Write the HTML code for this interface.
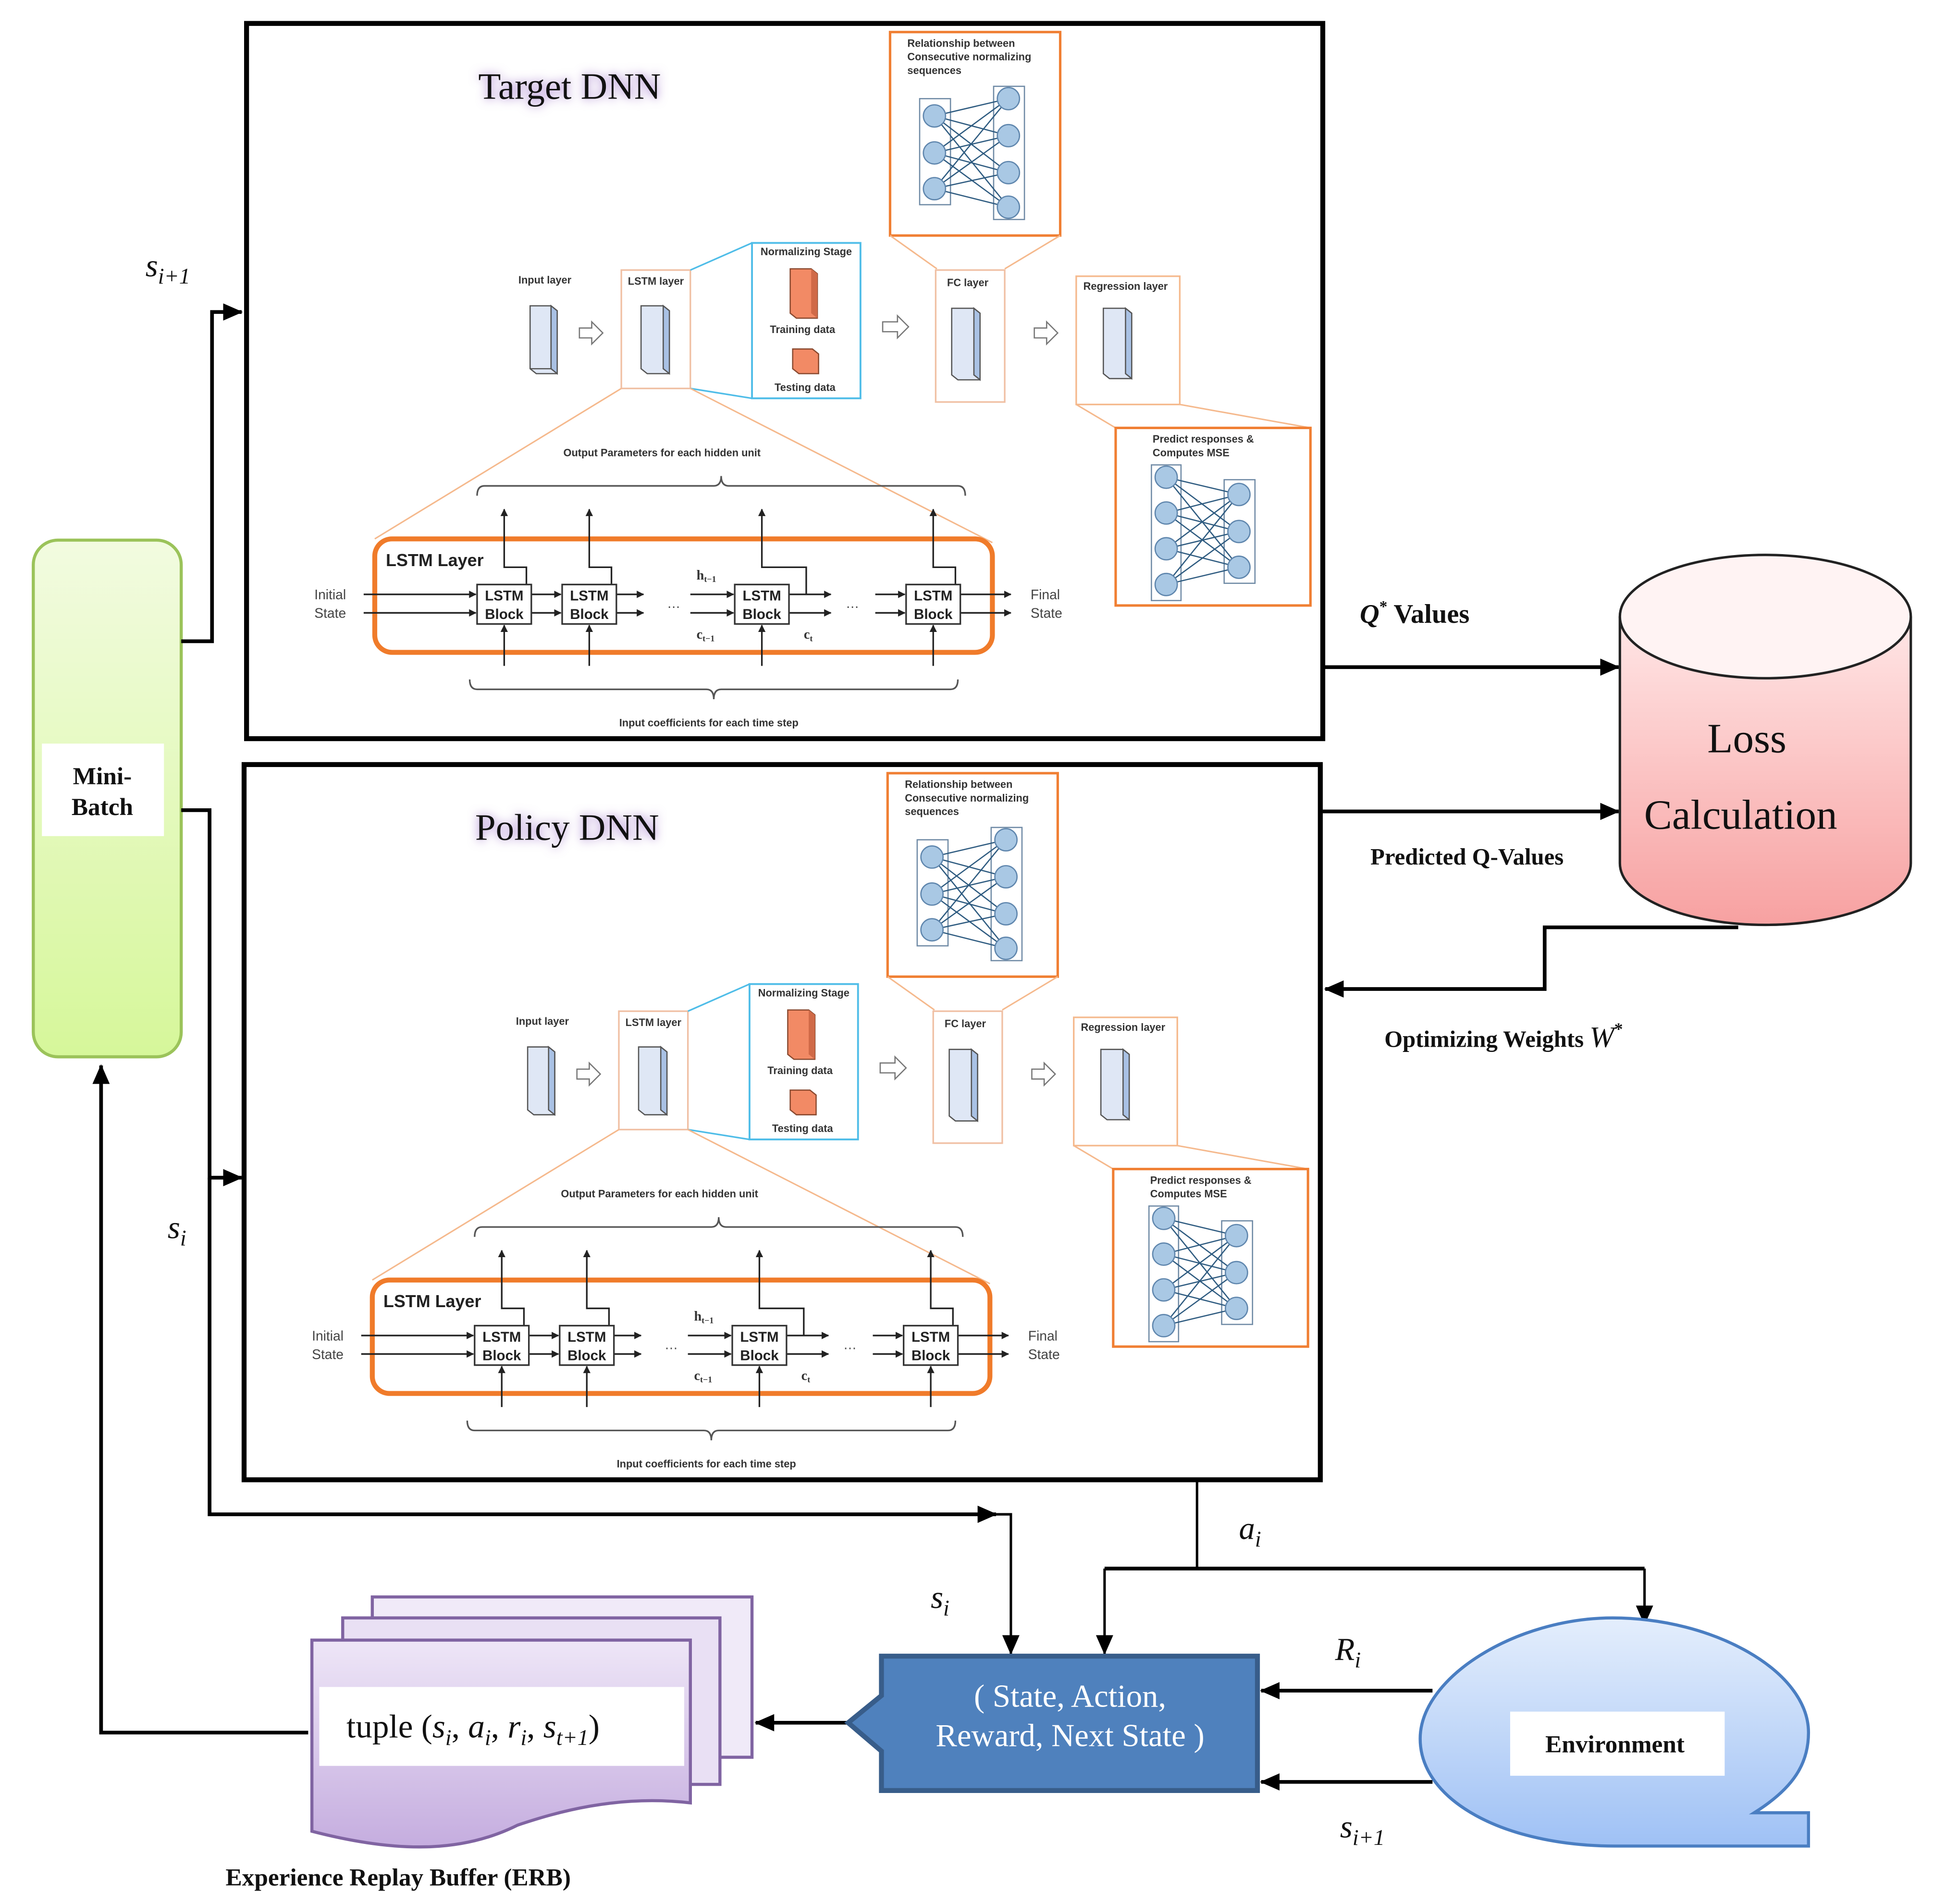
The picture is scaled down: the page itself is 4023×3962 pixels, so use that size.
<!DOCTYPE html>
<html><head><meta charset="utf-8"><style>
html,body{margin:0;padding:0;background:#fff;}
svg{display:block;}
.s{font-family:"Liberation Sans",sans-serif;}
.r{font-family:"Liberation Serif",serif;}
</style></head><body>
<svg width="4023" height="3962" viewBox="0 0 1568 1544" preserveAspectRatio="none" xmlns="http://www.w3.org/2000/svg">
<defs>
<linearGradient id="gg" x1="0" y1="0" x2="0" y2="1"><stop offset="0" stop-color="#f2fbe0"/><stop offset="1" stop-color="#d6f79a"/></linearGradient>
<linearGradient id="pg" x1="0" y1="0" x2="0" y2="1"><stop offset="0" stop-color="#ffe6e6"/><stop offset="1" stop-color="#f7a1a1"/></linearGradient>
<linearGradient id="vg" x1="0" y1="0" x2="0" y2="1"><stop offset="0" stop-color="#eee6f7"/><stop offset="1" stop-color="#c5addf"/></linearGradient>
<linearGradient id="bg" x1="0" y1="0" x2="0" y2="1"><stop offset="0" stop-color="#e4eefc"/><stop offset="1" stop-color="#9fc1f5"/></linearGradient>
<filter id="glow" x="-20%" y="-50%" width="140%" height="200%"><feGaussianBlur stdDeviation="4"/></filter>
<marker id="ah" markerWidth="10" markerHeight="10" refX="9" refY="5" orient="auto" markerUnits="userSpaceOnUse"><path d="M0,0 L10,5 L0,10 z" fill="#000"/></marker>
<marker id="ahb" markerWidth="16" markerHeight="14" refX="15" refY="7" orient="auto" markerUnits="userSpaceOnUse"><path d="M0,0 L16,7 L0,14 z" fill="#000"/></marker>
<marker id="sa" markerWidth="6" markerHeight="6" refX="5.5" refY="3" orient="auto" markerUnits="userSpaceOnUse"><path d="M0,0 L6,3 L0,6 z" fill="#222"/></marker>
</defs>

<!-- ===== TARGET PANEL ===== -->
<g id="tp">
<rect x="200" y="19" width="873" height="580" fill="#fff" stroke="#000" stroke-width="4"/>
<text x="462" y="80" text-anchor="middle" class="r" font-size="30" fill="#9b6fc8" filter="url(#glow)">Target DNN</text>
<text x="462" y="80" text-anchor="middle" class="r" font-size="30" fill="#111">Target DNN</text>
<!-- relationship box -->
<rect x="722" y="26" width="138" height="165" fill="none" stroke="#f07f33" stroke-width="2"/>
<text class="s" font-size="8.5" font-weight="bold" fill="#333"><tspan x="736" y="38">Relationship between</tspan><tspan x="736" y="49">Consecutive normalizing</tspan><tspan x="736" y="60">sequences</tspan></text>
<g stroke="#2e5b80" stroke-width="1" fill="none">
<rect x="746" y="80" width="25" height="86" stroke="#6f8aa5"/><rect x="806" y="70" width="25" height="108" stroke="#6f8aa5"/>
<path d="M758,94L818,80M758,94L818,110M758,94L818,140M758,94L818,168M758,124L818,80M758,124L818,110M758,124L818,140M758,124L818,168M758,153L818,80M758,153L818,110M758,153L818,140M758,153L818,168"/>
</g>
<g fill="#a9c8e4" stroke="#5f86ad"><circle cx="758" cy="94" r="9"/><circle cx="758" cy="124" r="9"/><circle cx="758" cy="153" r="9"/><circle cx="818" cy="80" r="9"/><circle cx="818" cy="110" r="9"/><circle cx="818" cy="140" r="9"/><circle cx="818" cy="168" r="9"/></g>
<path d="M722,191L760,218M860,191L815,218" stroke="#f5b98d" stroke-width="1.2" fill="none"/>
<!-- input layer -->
<text x="442" y="230" text-anchor="middle" class="s" font-size="8.5" font-weight="bold" fill="#333">Input layer</text>
<g stroke="#555" stroke-width="1"><polygon points="430,248 447,248 452,252 452,303 435,303 430,299" fill="#dfe7f5"/><path d="M447,248L447,299L430,299M447,299L452,303" fill="none"/><polygon points="447,248 452,252 452,303 447,299" fill="#a9c1e4"/></g>
<path d="M470,266h10v-5l9,9l-9,9v-5h-10z" fill="#fff" stroke="#777"/>
<!-- lstm layer -->
<rect x="504" y="219" width="56" height="96" fill="none" stroke="#f0c0a4" stroke-width="1.3"/>
<text x="532" y="231" text-anchor="middle" class="s" font-size="8.5" font-weight="bold" fill="#333">LSTM layer</text>
<g stroke="#555" stroke-width="1"><polygon points="520,248 538,248 543,252 543,303 525,303 520,299" fill="#dfe7f5"/><polygon points="538,248 543,252 543,303 538,299" fill="#a9c1e4"/></g>
<!-- normalizing -->
<path d="M560,219L610,197M560,315L610,323" stroke="#4fbde8" stroke-width="1.3" fill="none"/>
<rect x="610" y="197" width="88" height="126" fill="none" stroke="#4fbde8" stroke-width="1.5"/>
<text x="654" y="207" text-anchor="middle" class="s" font-size="8.5" font-weight="bold" fill="#333">Normalizing Stage</text>
<polygon points="641,218 658,218 663,222 663,258 646,258 641,254" fill="#f28a65" stroke="#8a4a30"/>
<polygon points="658,218 663,222 663,258 658,254" fill="#d06a48"/>
<text x="651" y="270" text-anchor="middle" class="s" font-size="8.5" font-weight="bold" fill="#333">Training data</text>
<polygon points="643,283 659,283 664,287 664,303 648,303 643,299" fill="#f28a65" stroke="#8a4a30"/>
<text x="653" y="317" text-anchor="middle" class="s" font-size="8.5" font-weight="bold" fill="#333">Testing data</text>
<path d="M716,261h12v-5l9,9l-9,9v-5h-12z" fill="#fff" stroke="#777"/>
<!-- FC -->
<rect x="759" y="219" width="56" height="107" fill="none" stroke="#f0c0a4" stroke-width="1.3"/>
<text x="785" y="232" text-anchor="middle" class="s" font-size="8.5" font-weight="bold" fill="#333">FC layer</text>
<g stroke="#555" stroke-width="1"><polygon points="772,250 790,250 795,254 795,308 777,308 772,304" fill="#dfe7f5"/><polygon points="790,250 795,254 795,308 790,304" fill="#a9c1e4"/></g>
<path d="M839,266h10v-5l9,9l-9,9v-5h-10z" fill="#fff" stroke="#777"/>
<!-- regression -->
<rect x="873" y="224" width="84" height="104" fill="none" stroke="#f5b98d" stroke-width="1.3"/>
<text x="913" y="235" text-anchor="middle" class="s" font-size="8.5" font-weight="bold" fill="#333">Regression layer</text>
<g stroke="#555" stroke-width="1"><polygon points="895,250 913,250 918,254 918,307 900,307 895,303" fill="#dfe7f5"/><polygon points="913,250 918,254 918,307 913,303" fill="#a9c1e4"/></g>
<path d="M873,328L905,347M957,328L1063,347" stroke="#f5b98d" stroke-width="1.2" fill="none"/>
<rect x="905" y="347" width="158" height="144" fill="none" stroke="#f07f33" stroke-width="2"/>
<text class="s" font-size="8.5" font-weight="bold" fill="#333"><tspan x="935" y="359">Predict responses &amp;</tspan><tspan x="935" y="370">Computes MSE</tspan></text>
<g stroke="#2e5b80" stroke-width="1" fill="none">
<rect x="934" y="377" width="24" height="110" stroke="#6f8aa5"/><rect x="993" y="389" width="25" height="84" stroke="#6f8aa5"/>
<path d="M946,387L1005,401M946,387L1005,431M946,387L1005,460M946,416L1005,401M946,416L1005,431M946,416L1005,460M946,445L1005,401M946,445L1005,431M946,445L1005,460M946,474L1005,401M946,474L1005,431M946,474L1005,460"/>
</g>
<g fill="#a9c8e4" stroke="#5f86ad"><circle cx="946" cy="387" r="9"/><circle cx="946" cy="416" r="9"/><circle cx="946" cy="445" r="9"/><circle cx="946" cy="474" r="9"/><circle cx="1005" cy="401" r="9"/><circle cx="1005" cy="431" r="9"/><circle cx="1005" cy="460" r="9"/></g>
<!-- LSTM detail -->
<path d="M504,315L304,437M560,315L805,440" stroke="#f5b98d" stroke-width="1.2" fill="none"/>
<text x="537" y="370" text-anchor="middle" class="s" font-size="8.5" font-weight="bold" fill="#333">Output Parameters for each hidden unit</text>
<path d="M387,402q0,-8 6,-8h186q6,0 6,-8q0,8 6,8h186q6,0 6,8" fill="none" stroke="#555" stroke-width="1.3"/>
<rect x="304" y="437" width="501" height="92" rx="14" fill="none" stroke="#f07b2a" stroke-width="4"/>
<text x="313" y="459" class="s" font-size="14" font-weight="bold" fill="#222">LSTM Layer</text>
<text class="s" font-size="11" fill="#444"><tspan x="255" y="486">Initial</tspan><tspan x="255" y="501">State</tspan><tspan x="836" y="486">Final</tspan><tspan x="836" y="501">State</tspan></text>
<g stroke="#222" stroke-width="1.3" fill="none" marker-end="url(#sa)">
<path d="M295,482H386"/><path d="M295,497H386"/>
<path d="M431,482H455"/><path d="M431,497H455"/>
<path d="M500,482H522"/><path d="M500,497H522"/>
<path d="M560,482H595"/><path d="M560,497H595"/>
<path d="M640,482H674"/><path d="M640,497H674"/>
<path d="M710,482H734"/><path d="M710,497H734"/>
<path d="M779,482H820"/><path d="M779,497H820"/>
<path d="M409,540V507"/><path d="M478,540V507"/><path d="M618,540V507"/><path d="M757,540V507"/>
<path d="M427,474V460H409V413"/><path d="M496,474V460H478V413"/><path d="M654,482V460H618V413"/><path d="M775,474V460H757V413"/>
</g>
<g fill="#fff" stroke="#333" stroke-width="1.3"><rect x="387" y="474" width="44" height="32"/><rect x="456" y="474" width="44" height="32"/><rect x="596" y="474" width="44" height="32"/><rect x="735" y="474" width="44" height="32"/></g>
<g class="s" font-size="11.5" font-weight="bold" fill="#222" text-anchor="middle">
<text x="409" y="487">LSTM</text><text x="409" y="502">Block</text>
<text x="478" y="487">LSTM</text><text x="478" y="502">Block</text>
<text x="618" y="487">LSTM</text><text x="618" y="502">Block</text>
<text x="757" y="487">LSTM</text><text x="757" y="502">Block</text>
</g>
<text x="541" y="493" class="s" font-size="11" fill="#444">…</text><text x="686" y="493" class="s" font-size="11" fill="#444">…</text>
<text x="565" y="470" class="r" font-size="11" font-weight="bold" fill="#333">h<tspan font-size="7" dy="2">t−1</tspan></text>
<text x="565" y="518" class="r" font-size="11" font-weight="bold" fill="#333">c<tspan font-size="7" dy="2">t−1</tspan></text>
<text x="652" y="518" class="r" font-size="11" font-weight="bold" fill="#333">c<tspan font-size="7" dy="2">t</tspan></text>
<path d="M381,551q0,8 6,8h186q6,0 6,8q0,-8 6,-8h186q6,0 6,-8" fill="none" stroke="#555" stroke-width="1.3"/>
<text x="575" y="589" text-anchor="middle" class="s" font-size="8.5" font-weight="bold" fill="#333">Input coefficients for each time step</text>
</g>

<!-- ===== POLICY PANEL (copy, shifted) ===== -->
<g transform="translate(-2,601)">
<rect x="200" y="19" width="873" height="580" fill="#fff" stroke="#000" stroke-width="4"/>
<text x="462" y="80" text-anchor="middle" class="r" font-size="30" fill="#9b6fc8" filter="url(#glow)">Policy DNN</text>
<text x="462" y="80" text-anchor="middle" class="r" font-size="30" fill="#111">Policy DNN</text>
<rect x="722" y="26" width="138" height="165" fill="none" stroke="#f07f33" stroke-width="2"/>
<text class="s" font-size="8.5" font-weight="bold" fill="#333"><tspan x="736" y="38">Relationship between</tspan><tspan x="736" y="49">Consecutive normalizing</tspan><tspan x="736" y="60">sequences</tspan></text>
<g stroke="#2e5b80" stroke-width="1" fill="none">
<rect x="746" y="80" width="25" height="86" stroke="#6f8aa5"/><rect x="806" y="70" width="25" height="108" stroke="#6f8aa5"/>
<path d="M758,94L818,80M758,94L818,110M758,94L818,140M758,94L818,168M758,124L818,80M758,124L818,110M758,124L818,140M758,124L818,168M758,153L818,80M758,153L818,110M758,153L818,140M758,153L818,168"/>
</g>
<g fill="#a9c8e4" stroke="#5f86ad"><circle cx="758" cy="94" r="9"/><circle cx="758" cy="124" r="9"/><circle cx="758" cy="153" r="9"/><circle cx="818" cy="80" r="9"/><circle cx="818" cy="110" r="9"/><circle cx="818" cy="140" r="9"/><circle cx="818" cy="168" r="9"/></g>
<path d="M722,191L760,218M860,191L815,218" stroke="#f5b98d" stroke-width="1.2" fill="none"/>
<text x="442" y="230" text-anchor="middle" class="s" font-size="8.5" font-weight="bold" fill="#333">Input layer</text>
<g stroke="#555" stroke-width="1"><polygon points="430,248 447,248 452,252 452,303 435,303 430,299" fill="#dfe7f5"/><polygon points="447,248 452,252 452,303 447,299" fill="#a9c1e4"/></g>
<path d="M470,266h10v-5l9,9l-9,9v-5h-10z" fill="#fff" stroke="#777"/>
<rect x="504" y="219" width="56" height="96" fill="none" stroke="#f0c0a4" stroke-width="1.3"/>
<text x="532" y="231" text-anchor="middle" class="s" font-size="8.5" font-weight="bold" fill="#333">LSTM layer</text>
<g stroke="#555" stroke-width="1"><polygon points="520,248 538,248 543,252 543,303 525,303 520,299" fill="#dfe7f5"/><polygon points="538,248 543,252 543,303 538,299" fill="#a9c1e4"/></g>
<path d="M560,219L610,197M560,315L610,323" stroke="#4fbde8" stroke-width="1.3" fill="none"/>
<rect x="610" y="197" width="88" height="126" fill="none" stroke="#4fbde8" stroke-width="1.5"/>
<text x="654" y="207" text-anchor="middle" class="s" font-size="8.5" font-weight="bold" fill="#333">Normalizing Stage</text>
<polygon points="641,218 658,218 663,222 663,258 646,258 641,254" fill="#f28a65" stroke="#8a4a30"/>
<polygon points="658,218 663,222 663,258 658,254" fill="#d06a48"/>
<text x="651" y="270" text-anchor="middle" class="s" font-size="8.5" font-weight="bold" fill="#333">Training data</text>
<polygon points="643,283 659,283 664,287 664,303 648,303 643,299" fill="#f28a65" stroke="#8a4a30"/>
<text x="653" y="317" text-anchor="middle" class="s" font-size="8.5" font-weight="bold" fill="#333">Testing data</text>
<path d="M716,261h12v-5l9,9l-9,9v-5h-12z" fill="#fff" stroke="#777"/>
<rect x="759" y="219" width="56" height="107" fill="none" stroke="#f0c0a4" stroke-width="1.3"/>
<text x="785" y="232" text-anchor="middle" class="s" font-size="8.5" font-weight="bold" fill="#333">FC layer</text>
<g stroke="#555" stroke-width="1"><polygon points="772,250 790,250 795,254 795,308 777,308 772,304" fill="#dfe7f5"/><polygon points="790,250 795,254 795,308 790,304" fill="#a9c1e4"/></g>
<path d="M839,266h10v-5l9,9l-9,9v-5h-10z" fill="#fff" stroke="#777"/>
<rect x="873" y="224" width="84" height="104" fill="none" stroke="#f5b98d" stroke-width="1.3"/>
<text x="913" y="235" text-anchor="middle" class="s" font-size="8.5" font-weight="bold" fill="#333">Regression layer</text>
<g stroke="#555" stroke-width="1"><polygon points="895,250 913,250 918,254 918,307 900,307 895,303" fill="#dfe7f5"/><polygon points="913,250 918,254 918,307 913,303" fill="#a9c1e4"/></g>
<path d="M873,328L905,347M957,328L1063,347" stroke="#f5b98d" stroke-width="1.2" fill="none"/>
<rect x="905" y="347" width="158" height="144" fill="none" stroke="#f07f33" stroke-width="2"/>
<text class="s" font-size="8.5" font-weight="bold" fill="#333"><tspan x="935" y="359">Predict responses &amp;</tspan><tspan x="935" y="370">Computes MSE</tspan></text>
<g stroke="#2e5b80" stroke-width="1" fill="none">
<rect x="934" y="377" width="24" height="110" stroke="#6f8aa5"/><rect x="993" y="389" width="25" height="84" stroke="#6f8aa5"/>
<path d="M946,387L1005,401M946,387L1005,431M946,387L1005,460M946,416L1005,401M946,416L1005,431M946,416L1005,460M946,445L1005,401M946,445L1005,431M946,445L1005,460M946,474L1005,401M946,474L1005,431M946,474L1005,460"/>
</g>
<g fill="#a9c8e4" stroke="#5f86ad"><circle cx="946" cy="387" r="9"/><circle cx="946" cy="416" r="9"/><circle cx="946" cy="445" r="9"/><circle cx="946" cy="474" r="9"/><circle cx="1005" cy="401" r="9"/><circle cx="1005" cy="431" r="9"/><circle cx="1005" cy="460" r="9"/></g>
<path d="M504,315L304,437M560,315L805,440" stroke="#f5b98d" stroke-width="1.2" fill="none"/>
<text x="537" y="370" text-anchor="middle" class="s" font-size="8.5" font-weight="bold" fill="#333">Output Parameters for each hidden unit</text>
<path d="M387,402q0,-8 6,-8h186q6,0 6,-8q0,8 6,8h186q6,0 6,8" fill="none" stroke="#555" stroke-width="1.3"/>
<rect x="304" y="437" width="501" height="92" rx="14" fill="none" stroke="#f07b2a" stroke-width="4"/>
<text x="313" y="459" class="s" font-size="14" font-weight="bold" fill="#222">LSTM Layer</text>
<text class="s" font-size="11" fill="#444"><tspan x="255" y="486">Initial</tspan><tspan x="255" y="501">State</tspan><tspan x="836" y="486">Final</tspan><tspan x="836" y="501">State</tspan></text>
<g stroke="#222" stroke-width="1.3" fill="none" marker-end="url(#sa)">
<path d="M295,482H386"/><path d="M295,497H386"/>
<path d="M431,482H455"/><path d="M431,497H455"/>
<path d="M500,482H522"/><path d="M500,497H522"/>
<path d="M560,482H595"/><path d="M560,497H595"/>
<path d="M640,482H674"/><path d="M640,497H674"/>
<path d="M710,482H734"/><path d="M710,497H734"/>
<path d="M779,482H820"/><path d="M779,497H820"/>
<path d="M409,540V507"/><path d="M478,540V507"/><path d="M618,540V507"/><path d="M757,540V507"/>
<path d="M427,474V460H409V413"/><path d="M496,474V460H478V413"/><path d="M654,482V460H618V413"/><path d="M775,474V460H757V413"/>
</g>
<g fill="#fff" stroke="#333" stroke-width="1.3"><rect x="387" y="474" width="44" height="32"/><rect x="456" y="474" width="44" height="32"/><rect x="596" y="474" width="44" height="32"/><rect x="735" y="474" width="44" height="32"/></g>
<g class="s" font-size="11.5" font-weight="bold" fill="#222" text-anchor="middle">
<text x="409" y="487">LSTM</text><text x="409" y="502">Block</text>
<text x="478" y="487">LSTM</text><text x="478" y="502">Block</text>
<text x="618" y="487">LSTM</text><text x="618" y="502">Block</text>
<text x="757" y="487">LSTM</text><text x="757" y="502">Block</text>
</g>
<text x="541" y="493" class="s" font-size="11" fill="#444">…</text><text x="686" y="493" class="s" font-size="11" fill="#444">…</text>
<text x="565" y="470" class="r" font-size="11" font-weight="bold" fill="#333">h<tspan font-size="7" dy="2">t−1</tspan></text>
<text x="565" y="518" class="r" font-size="11" font-weight="bold" fill="#333">c<tspan font-size="7" dy="2">t−1</tspan></text>
<text x="652" y="518" class="r" font-size="11" font-weight="bold" fill="#333">c<tspan font-size="7" dy="2">t</tspan></text>
<path d="M381,551q0,8 6,8h186q6,0 6,8q0,-8 6,-8h186q6,0 6,-8" fill="none" stroke="#555" stroke-width="1.3"/>
<text x="575" y="589" text-anchor="middle" class="s" font-size="8.5" font-weight="bold" fill="#333">Input coefficients for each time step</text>
</g>

<!-- ===== Mini-batch ===== -->
<rect x="27" y="438" width="120" height="419" rx="20" fill="url(#gg)" stroke="#9bc35a" stroke-width="2.5"/>
<rect x="34" y="603" width="99" height="75" fill="#fff"/>
<text text-anchor="middle" class="r" font-size="20" font-weight="bold" fill="#111"><tspan x="83" y="636">Mini-</tspan><tspan x="83" y="661">Batch</tspan></text>

<!-- connectors -->
<g stroke="#000" stroke-width="3" fill="none">
<path d="M147,520H172V253H196" marker-end="url(#ahb)"/>
<path d="M147,657H170V955H196" marker-end="url(#ahb)"/>
<path d="M170,955V1228H808" marker-end="url(#ahb)"/>
<path d="M250,1405H82V864" marker-end="url(#ahb)"/>
<path d="M1073,541H1313" marker-end="url(#ahb)"/>
<path d="M1073,658H1313" marker-end="url(#ahb)"/>
<path d="M1410,752H1253V802H1075" marker-end="url(#ahb)"/>
<path d="M896,1272H1334"/>
<path d="M688,1397H613" marker-end="url(#ahb)"/>
<path d="M1162,1371H1023" marker-end="url(#ahb)"/>
<path d="M1162,1445H1023" marker-end="url(#ahb)"/>
</g>
<g stroke="#000" stroke-width="2" fill="none">
<path d="M808,1228H820V1341" marker-end="url(#ahb)"/>
<path d="M971,1199V1272"/>
<path d="M896,1272V1341" marker-end="url(#ahb)"/>
<path d="M1334,1272V1317" marker-end="url(#ahb)"/>
</g>

<!-- labels -->
<g class="r" font-style="italic" fill="#111">
<text x="118" y="224" font-size="26">s<tspan font-size="18" dy="6">i+1</tspan></text>
<text x="136" y="1004" font-size="26">s<tspan font-size="18" dy="6">i</tspan></text>
<text x="755" y="1304" font-size="26">s<tspan font-size="18" dy="6">i</tspan></text>
<text x="1005" y="1248" font-size="26">a<tspan font-size="18" dy="6">i</tspan></text>
<text x="1083" y="1346" font-size="26">R<tspan font-size="18" dy="6">i</tspan></text>
<text x="1087" y="1490" font-size="26">s<tspan font-size="18" dy="6">i+1</tspan></text>
</g>
<text x="1103" y="505" class="r" font-size="22" font-weight="bold" fill="#111"><tspan font-style="italic">Q</tspan><tspan font-size="13" dy="-9">*</tspan><tspan dy="9"> Values</tspan></text>
<text x="1190" y="701" text-anchor="middle" class="r" font-size="19" font-weight="bold" fill="#111">Predicted Q-Values</text>
<text x="1123" y="849" class="r" font-size="19" font-weight="bold" fill="#111">Optimizing Weights <tspan font-style="italic" font-weight="normal" font-size="24">W</tspan><tspan font-size="14" dy="-10">*</tspan></text>

<!-- cylinder -->
<path d="M1314,500V700A118,50 0 0 0 1550,700V500" fill="url(#pg)" stroke="#222" stroke-width="2"/>
<ellipse cx="1432" cy="500" rx="118" ry="50" fill="#fff3f3" stroke="#222" stroke-width="2"/>
<text x="1417" y="610" text-anchor="middle" class="r" font-size="34" fill="#111">Loss</text>
<text x="1412" y="672" text-anchor="middle" class="r" font-size="34" fill="#111">Calculation</text>

<!-- state box -->
<polygon points="715,1343 1020,1343 1020,1452 715,1452 715,1420 688,1397 715,1375" fill="#4f81bd" stroke="#385d8a" stroke-width="4"/>
<text text-anchor="middle" class="r" font-size="26" fill="#fff"><tspan x="868" y="1384">( State, Action,</tspan><tspan x="868" y="1416">Reward, Next State )</tspan></text>

<!-- environment -->
<path d="M1308,1312C1230,1312 1152,1360 1152,1410C1152,1460 1220,1497 1310,1497H1467V1470H1423C1455,1450 1467,1430 1467,1405C1467,1355 1390,1312 1308,1312Z" fill="url(#bg)" stroke="#4a7ec2" stroke-width="2.5"/>
<rect x="1225" y="1388" width="174" height="52" fill="#fff"/>
<text x="1310" y="1421" text-anchor="middle" class="r" font-size="20" font-weight="bold" fill="#111">Environment</text>

<!-- ERB -->
<g stroke="#8064a2" stroke-width="2.5">
<rect x="302" y="1295" width="308" height="130" fill="#f0eaf8"/>
<rect x="278" y="1312" width="306" height="135" fill="#e9e0f4"/>
<path d="M253,1330H560V1462C500,1455 450,1470 420,1480C380,1500 330,1505 253,1485Z" fill="url(#vg)"/>
</g>
<rect x="259" y="1368" width="296" height="64" fill="#fff"/>
<text x="281" y="1409" class="r" font-size="27" fill="#111">tuple (<tspan font-style="italic">s</tspan><tspan font-size="18" dy="6" font-style="italic">i</tspan><tspan dy="-6">, </tspan><tspan font-style="italic">a</tspan><tspan font-size="18" dy="6" font-style="italic">i</tspan><tspan dy="-6">, </tspan><tspan font-style="italic">r</tspan><tspan font-size="18" dy="6" font-style="italic">i</tspan><tspan dy="-6">, </tspan><tspan font-style="italic">s</tspan><tspan font-size="18" dy="6" font-style="italic">t+1</tspan><tspan dy="-6">)</tspan></text>
<text x="323" y="1529" text-anchor="middle" class="r" font-size="20" font-weight="bold" fill="#111">Experience Replay Buffer (ERB)</text>
</svg>
</body></html>
